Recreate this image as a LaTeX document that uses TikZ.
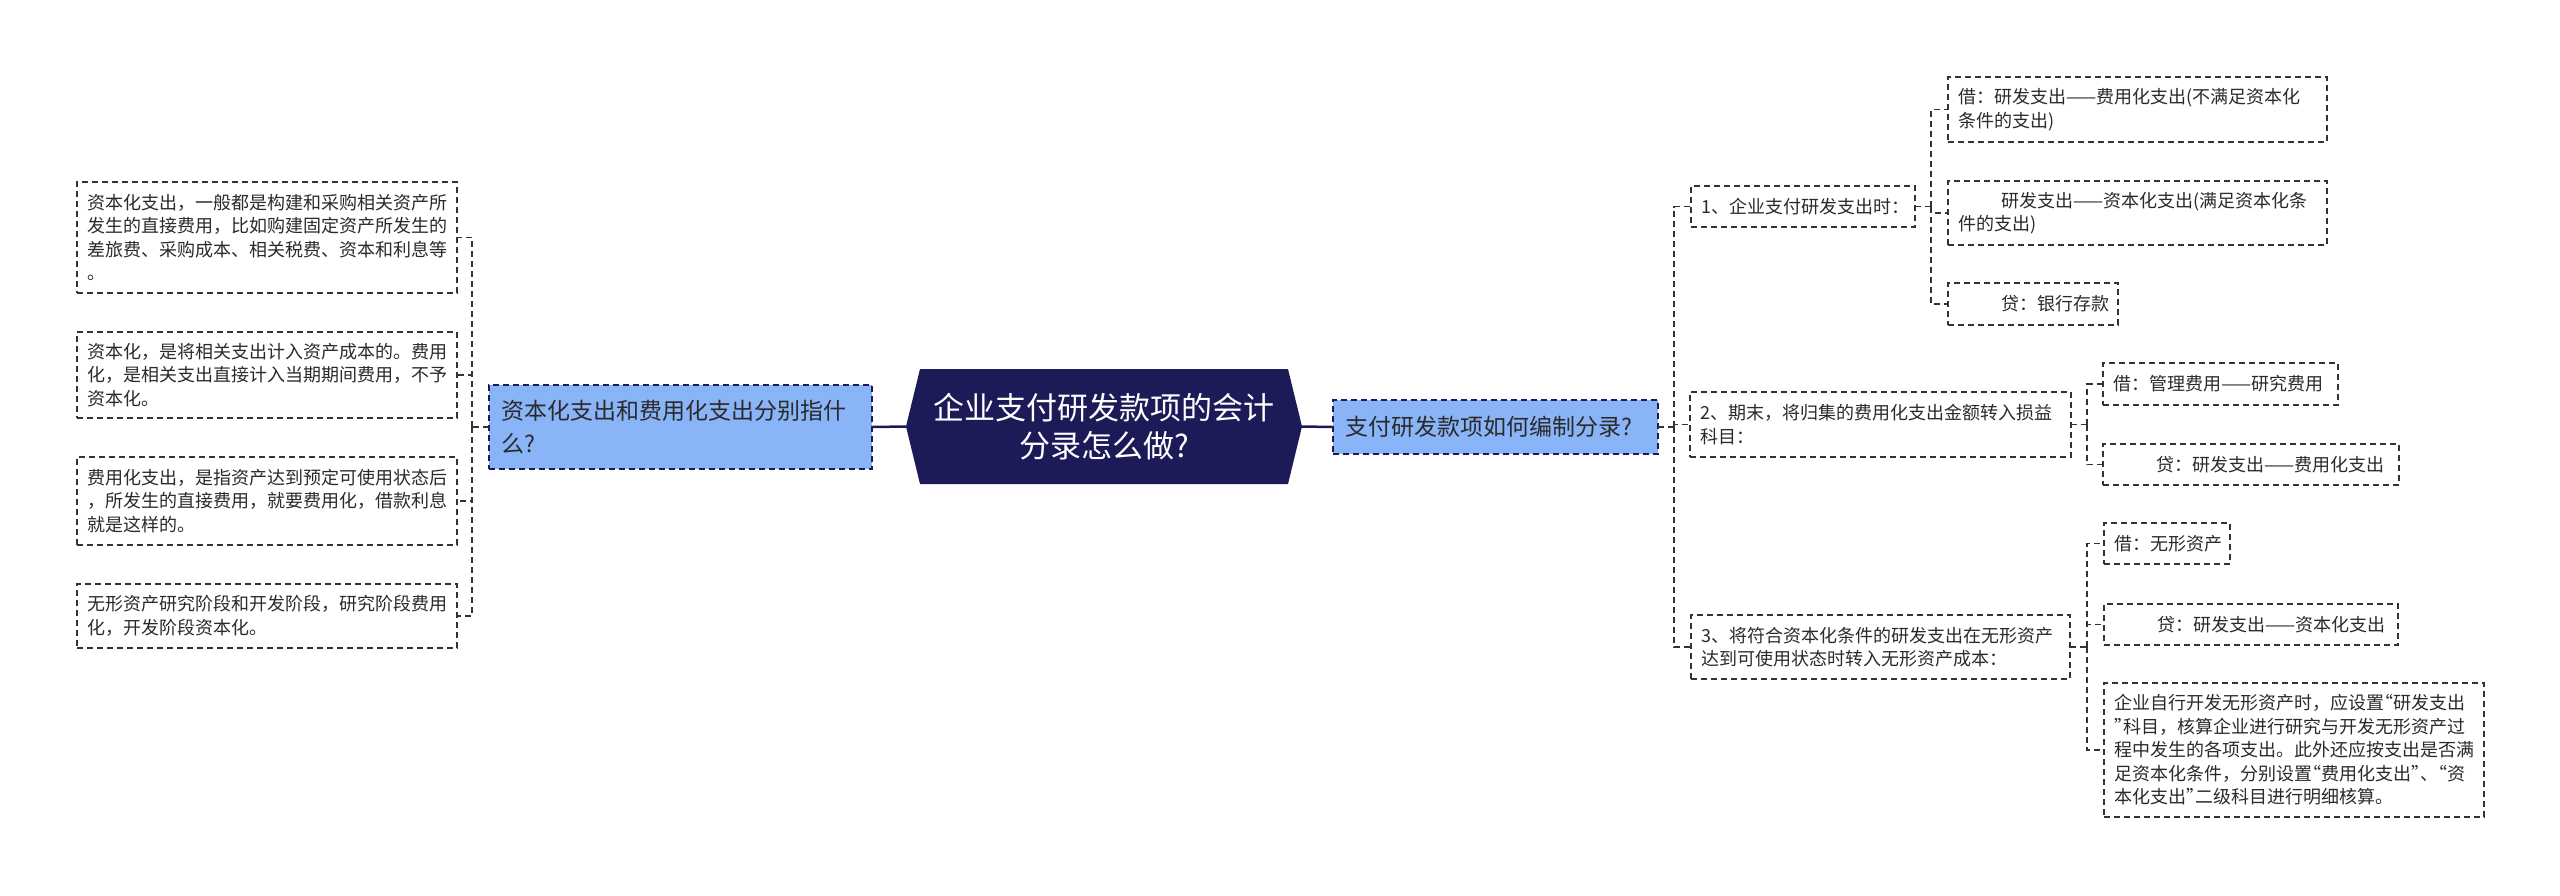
\documentclass[tikz,border=0pt]{standalone}
\usepackage{fontspec}
\setmainfont{Noto Sans CJK SC}
\usetikzlibrary{calc}
\definecolor{rootnavy}{HTML}{1D1B57}
\definecolor{subblue}{HTML}{8AB4F8}
\definecolor{linegray}{HTML}{333333}
\definecolor{textgray}{HTML}{2A2A2A}
\newcommand{\myoq}{\makebox[9pt][r]{“}}
\newcommand{\mycq}{\makebox[9pt][l]{”}}
\begin{document}
\begin{tikzpicture}[x=1pt,y=-1pt,
  dashbox/.style={draw=linegray, line width=1.5pt, dash pattern=on 6pt off 4pt,
    anchor=north west, inner xsep=10pt, inner ysep=0pt, outer sep=0pt, align=left,
    font=\fontsize{18}{23.5}\selectfont, text=textgray},
  subbox/.style={draw=rootnavy, fill=subblue, line width=1.5pt, dash pattern=on 6pt off 4pt,
    anchor=north west, inner xsep=12pt, inner ysep=0pt, outer sep=0pt, align=left,
    font=\fontsize{23}{33}\selectfont, text=textgray},
  rootbox/.style={anchor=north west, inner sep=0pt, outer sep=0pt, align=center,
    font=\fontsize{31}{38}\selectfont, text=white,
    path picture={\fill[rootnavy] (path picture bounding box.west)
      -- ([xshift=14pt]path picture bounding box.north west)
      -- ([xshift=-14pt]path picture bounding box.north east)
      -- (path picture bounding box.east)
      -- ([xshift=-14pt]path picture bounding box.south east)
      -- ([xshift=14pt]path picture bounding box.south west) -- cycle;}},
  conn/.style={draw=linegray, line width=1.5pt, dash pattern=on 6pt off 4pt},
  rootline/.style={draw=rootnavy, line width=2.5pt}
]
\useasboundingbox (0,0) rectangle (2560,895);

% root
\node[rootbox, minimum width=396pt, minimum height=115pt, text width=396pt] (root) at (906,369)
  {企业支付研发款项的会计\\分录怎么做?};

% left branch
\node[subbox, minimum height=84pt, text width=359pt] (b1) at (489,385)
  {资本化支出和费用化支出分别指什\\么?};
\node[dashbox, minimum height=111pt, text width=360pt] (l1) at (77,182)
  {资本化支出，一般都是构建和采购相关资产所\\发生的直接费用，比如购建固定资产所发生的\\差旅费、采购成本、相关税费、资本和利息等\\。};
\node[dashbox, minimum height=86pt, text width=360pt] (l2) at (77,332)
  {资本化，是将相关支出计入资产成本的。费用\\化，是相关支出直接计入当期期间费用，不予\\资本化。};
\node[dashbox, minimum height=88pt, text width=360pt] (l3) at (77,457)
  {费用化支出，是指资产达到预定可使用状态后\\，所发生的直接费用，就要费用化，借款利息\\就是这样的。};
\node[dashbox, minimum height=64pt, text width=360pt] (l4) at (77,584)
  {无形资产研究阶段和开发阶段，研究阶段费用\\化，开发阶段资本化。};

% right branch
\node[subbox, minimum height=54pt, text width=301pt] (b2) at (1333,400)
  {支付研发款项如何编制分录?};

\node[dashbox, minimum height=41pt, text width=204pt] (r1) at (1691,186)
  {1、企业支付研发支出时：};
\node[dashbox, minimum height=65pt, text width=359pt] (r1a) at (1948,77)
  {借：研发支出——费用化支出(不满足资本化\\条件的支出)};
\node[dashbox, minimum height=64pt, text width=359pt] (r1b) at (1948,181)
  {\hspace*{43pt}研发支出——资本化支出(满足资本化条\\件的支出)};
\node[dashbox, minimum height=42pt, text width=150pt] (r1c) at (1948,283)
  {\hspace*{43pt}贷：银行存款};

\node[dashbox, minimum height=65pt, text width=361pt] (r2) at (1690,392)
  {2、期末，将归集的费用化支出金额转入损益\\科目：};
\node[dashbox, minimum height=42pt, text width=215pt] (r2a) at (2103,363)
  {借：管理费用——研究费用};
\node[dashbox, minimum height=41pt, text width=276pt] (r2b) at (2103,444)
  {\hspace*{43pt}贷：研发支出——费用化支出};

\node[dashbox, minimum height=64pt, text width=359pt] (r3) at (1691,615)
  {3、将符合资本化条件的研发支出在无形资产\\达到可使用状态时转入无形资产成本：};
\node[dashbox, minimum height=41pt, text width=106pt] (r3a) at (2104,523)
  {借：无形资产};
\node[dashbox, minimum height=41pt, text width=274pt] (r3b) at (2104,604)
  {\hspace*{43pt}贷：研发支出——资本化支出};
\node[dashbox, minimum height=134pt, text width=360pt] (r3c) at (2104,683)
  {企业自行开发无形资产时，应设置\myoq 研发支出\\\mycq 科目，核算企业进行研究与开发无形资产过\\程中发生的各项支出。此外还应按支出是否满\\足资本化条件，分别设置\myoq 费用化支出\mycq 、\myoq 资\\本化支出\mycq 二级科目进行明细核算。};

% junctions
\coordinate (lj) at ([xshift=-17pt]b1.west);
\coordinate (rj) at ([xshift=16pt]b2.east);
\coordinate (c1j) at ([xshift=16pt]r1.east);
\coordinate (c2j) at ([xshift=16pt]r2.east);
\coordinate (c3j) at ([xshift=17pt]r3.east);

% root connectors
\draw[rootline] (b1.east) -- (root.west);
\draw[rootline] (root.east) -- (b2.west);

% left connectors
\draw[conn] (b1.west) -- (lj);
\foreach \n in {l1,l2,l3,l4} \draw[conn] (lj) |- (\n.east);

% right connectors
\draw[conn] (b2.east) -- (rj);
\foreach \n in {r1,r2,r3} \draw[conn] (rj) |- (\n.west);
\draw[conn] (r1.east) -- (c1j);
\foreach \n in {r1a,r1b,r1c} \draw[conn] (c1j) |- (\n.west);
\draw[conn] (r2.east) -- (c2j);
\foreach \n in {r2a,r2b} \draw[conn] (c2j) |- (\n.west);
\draw[conn] (r3.east) -- (c3j);
\foreach \n in {r3a,r3b,r3c} \draw[conn] (c3j) |- (\n.west);
\end{tikzpicture}
\end{document}
